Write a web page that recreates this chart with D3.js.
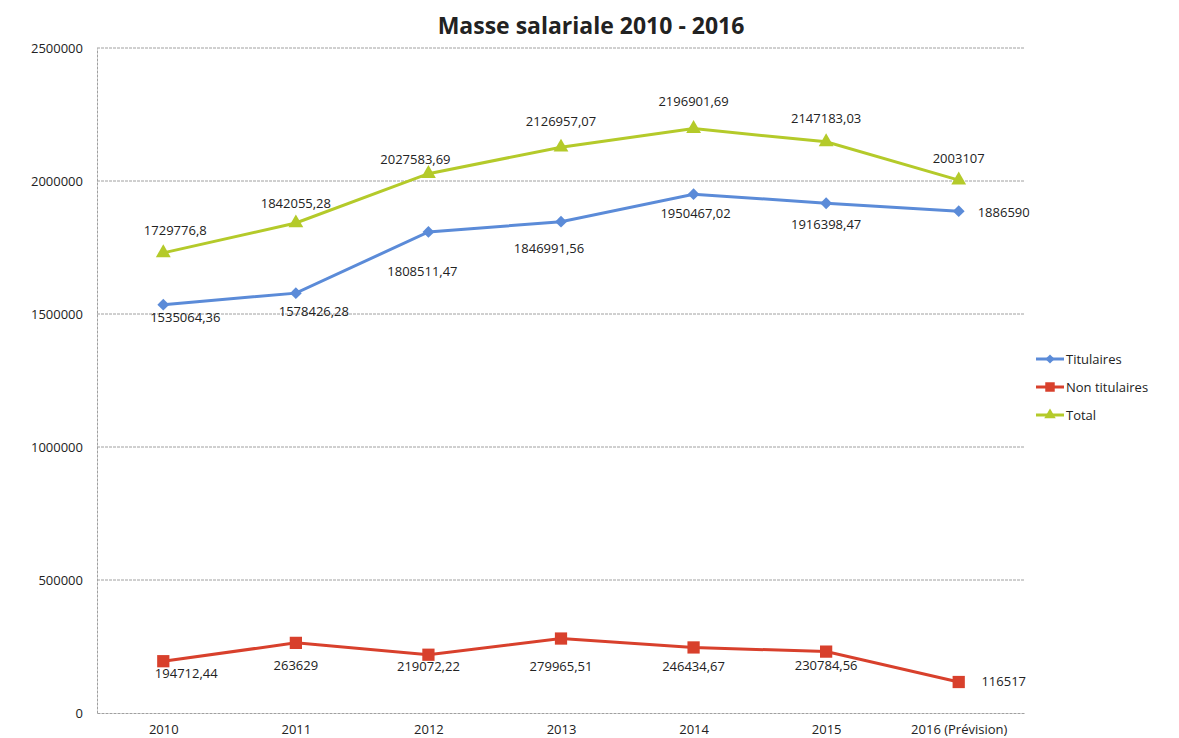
<!DOCTYPE html>
<html lang="fr">
<head>
    <meta charset="UTF-8">
    <title>Masse salariale 2010 - 2016</title>
    <style>
        body { margin: 0; background: #ffffff; }
        text { font-family: "Open Sans", "Noto Sans", sans-serif; fill: #222; }
    </style>
    <script src="https://cdn.jsdelivr.net/npm/d3@7"></script>
</head>
<body>
<script>
    // Data
    const years = ["2010", "2011", "2012", "2013", "2014", "2015", "2016 (Prévision)"];
    const titulaires = [1535064.36, 1578426.28, 1808511.47, 1846991.56, 1950467.02, 1916398.47, 1886590];
    const nonTitulaires = [194712.44, 263629, 219072.22, 279965.51, 246434.67, 230784.56, 116517];
    const total = [1729776.8, 1842055.28, 2027583.69, 2126957.07, 2196901.69, 2147183.03, 2003107];
    const yTicks = [0, 500000, 1000000, 1500000, 2000000, 2500000];

    // label offsets [dx, dy] relative to each point (placement only)
    const titLabelPos = [[22, 13], [18, 18], [-6, 40], [-12, 27], [2, 19], [0, 21], [45, 1]];
    const nonLabelPos = [[23, 12], [0, 23], [0, 12], [0, 28], [0, 19], [0, 14], [45, -1]];
    const totLabelPos = [[12, -22], [0, -20], [-13, -14], [0, -26], [0, -27], [0, -23], [0, -22]];

    const size = { width: 1179, height: 738 };
    const margin = { left: 97, right: 154, top: 48, bottom: 25 };
    const plotW = size.width - margin.left - margin.right;
    const plotH = size.height - margin.top - margin.bottom;

    const series = [
        { name: "Titulaires", values: titulaires, color: "#5b8bd8", symbol: d3.symbolSquare, rot: 45, symSize: 70, labels: titLabelPos },
        { name: "Non titulaires", values: nonTitulaires, color: "#d8402c", symbol: d3.symbolSquare, rot: 0, symSize: 150, labels: nonLabelPos },
        { name: "Total", values: total, color: "#b4ca2a", symbol: d3.symbolTriangle, rot: 0, symSize: 95, labels: totLabelPos }
    ];

    const svg = d3.select("body").append("svg")
        .attr("width", size.width)
        .attr("height", size.height);

    const x = d3.scalePoint().domain(years).range([0, plotW]).padding(0.5);
    const y = d3.scaleLinear().domain([0, 2500000]).range([plotH, 0]);

    const g = svg.append("g").attr("transform", `translate(${margin.left},${margin.top})`);

    // gridlines
    g.append("g")
        .selectAll("line")
        .data(yTicks.filter(d => d > 0))
        .join("line")
        .attr("x1", 0).attr("x2", plotW)
        .attr("y1", d => y(d)).attr("y2", d => y(d))
        .attr("stroke", "#a0a0a0")
        .attr("stroke-width", 1)
        .attr("stroke-dasharray", "3,1");

    // y axis
    const yAxis = d3.axisLeft(y).tickValues(yTicks).tickSize(0).tickPadding(14).tickFormat(d3.format("d"));
    const yg = g.append("g").call(yAxis);
    yg.select(".domain").attr("stroke", "#a0a0a0").attr("stroke-dasharray", "3,1");
    yg.selectAll("text").attr("font-size", 13).attr("fill", "#222");

    // x axis
    const xAxis = d3.axisBottom(x).tickSize(0).tickPadding(12);
    const xg = g.append("g").attr("transform", `translate(0,${plotH})`).call(xAxis);
    xg.select(".domain").attr("stroke", "#a0a0a0").attr("stroke-dasharray", "3,1");
    xg.selectAll("text").attr("font-size", 13).attr("fill", "#222");

    // lines, markers and labels
    const line = d3.line().x((d, i) => x(years[i])).y(d => y(d));
    series.forEach(s => {
        g.append("path")
            .datum(s.values)
            .attr("fill", "none")
            .attr("stroke", s.color)
            .attr("stroke-width", 3)
            .attr("d", line);

        g.append("g")
            .selectAll("path")
            .data(s.values)
            .join("path")
            .attr("transform", (d, i) => `translate(${x(years[i])},${y(d)}) rotate(${s.rot})`)
            .attr("d", d3.symbol().type(s.symbol).size(s.symSize))
            .attr("fill", s.color);

        g.append("g")
            .selectAll("text")
            .data(s.values)
            .join("text")
            .attr("x", (d, i) => x(years[i]) + s.labels[i][0])
            .attr("y", (d, i) => y(d) + s.labels[i][1])
            .attr("dy", "0.35em")
            .attr("text-anchor", "middle")
            .attr("font-size", 13)
            .text(d => String(d).replace(".", ","));
    });

    // title
    svg.append("text")
        .attr("x", 591)
        .attr("y", 34)
        .attr("text-anchor", "middle")
        .attr("font-size", 23)
        .attr("font-weight", "bold")
        .text("Masse salariale 2010 - 2016");

    // legend
    const legend = svg.append("g").attr("transform", "translate(1036,359)");
    series.forEach((s, i) => {
        const item = legend.append("g").attr("transform", `translate(0,${i * 28})`);
        item.append("line")
            .attr("x1", 0).attr("x2", 28)
            .attr("stroke", s.color).attr("stroke-width", 3);
        item.append("path")
            .attr("transform", `translate(14,0) rotate(${s.rot})`)
            .attr("d", d3.symbol().type(s.symbol).size(s.symSize * 0.6))
            .attr("fill", s.color);
        item.append("text")
            .attr("x", 30)
            .attr("dy", "0.35em")
            .attr("font-size", 13)
            .text(s.name);
    });
</script>
</body>
</html>
